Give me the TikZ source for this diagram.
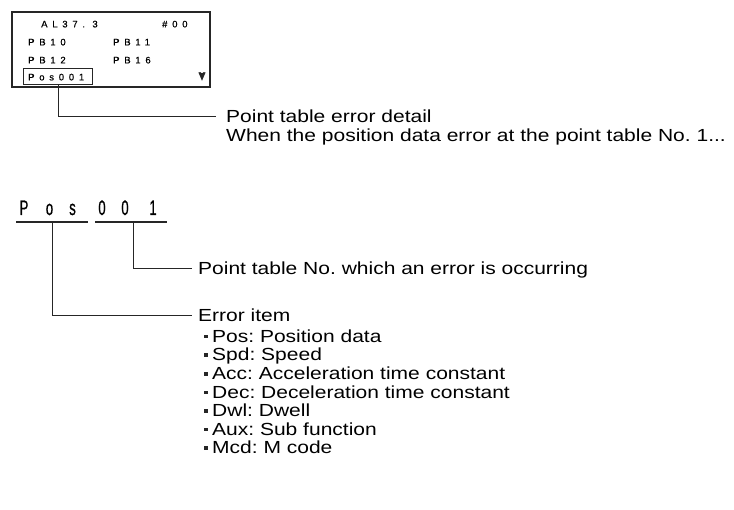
\documentclass[tikz,border=0pt]{standalone}
\usepackage{fontspec}
\setmainfont[FakeStretch=1.2]{Liberation Sans}
\newfontfamily\lcdfont[LetterSpace=50,FakeBold=0.5]{Liberation Sans}
\newfontfamily\bigfont[FakeStretch=0.62,FakeBold=0.7]{Liberation Sans}

\begin{document}
\frenchspacing
\begin{tikzpicture}[x=1pt,y=-1pt,
  lbl/.style={anchor=base west, inner sep=0pt, font=\fontsize{17.5}{20}\selectfont},
  lcd/.style={anchor=base west, inner sep=0pt, font=\lcdfont\fontsize{9.5}{10}\selectfont},
  bigch/.style={anchor=base, inner sep=0pt, font=\bigfont\fontsize{21}{24}\selectfont},
  lead/.style={line width=0.9pt, draw=black!85},
  uline/.style={line width=1.1pt, draw=black!85},
  bullet/.style={fill=black!85}]
\useasboundingbox (0,0) rectangle (734,510);

% display panel
\draw[line width=1.2pt, draw=black!85] (12,12) rectangle (210,87);
\node[lcd] (al)   at (41,27.4)  {AL37. 3};
\node[lcd] (stn)  at (162,27.4) {\#00};
\node[lcd] (pb10) at (28,45.4)  {PB10};
\node[lcd] (pb11) at (113,45.4) {PB11};
\node[lcd] (pb12) at (28,63.4)  {PB12};
\node[lcd] (pb16) at (113,63.4) {PB16};
\node[lcd] (pos)  at (28,80.4)  {Pos001};
\node[draw=black!85, line width=0.8pt, inner sep=0pt, minimum width=69pt, minimum height=16pt]
  (posbox) at (57.5,76) {};
\fill[black!85] (198.4,72.4) .. controls (199.4,71.6) and (201.4,72.2) .. (202,73.4)
  .. controls (202.6,72.2) and (204.6,71.6) .. (205.6,72.4) -- (202,80.8) -- cycle;

% leader to the detail note
\coordinate (d1) at (216,116);
\draw[lead] (posbox.south -| 58,0) |- (d1);
\node[lbl] (detail) at (226,122.3) {Point table error detail};
\node[lbl] (when)   at (226,141.3) {When the position data error at the point table No.~1...};

% enlarged field
\node[bigch] (c1) at (24,215)  {P};
\node[bigch] (c2) at (49.5,215) {o};
\node[bigch] (c3) at (72.5,215) {s};
\node[bigch] (c4) at (102,215) {0};
\node[bigch] (c5) at (125,215) {0};
\node[bigch] (c6) at (153,215) {1};
\coordinate (u1a) at (16,222);
\coordinate (u1b) at (88,222);
\coordinate (u2a) at (95,222);
\coordinate (u2b) at (167,222);
\draw[uline] (u1a) -- (u1b);
\draw[uline] (u2a) -- (u2b);

% leaders from the two fields
\coordinate (t2) at (133,222);
\coordinate (t1) at (52,222);
\coordinate (e2) at (192,268);
\coordinate (e1) at (192,315);
\draw[lead] (t2) |- (e2);
\draw[lead] (t1) |- (e1);
\node[lbl] (pno) at (198,274.3) {Point table No. which an error is occurring};
\node[lbl] (err) at (198,321.3) {Error item};

% list of error items
\foreach \txt [count=\i] in {Pos: Position data, Spd: Speed, Acc: Acceleration time constant,
    Dec: Deceleration time constant, Dwl: Dwell, Aux: Sub function, Mcd: M code} {
  \pgfmathsetmacro{\yy}{336+18.6*(\i-1)}
  \fill[bullet] (204.4,\yy-1.2) rectangle (207.6,\yy+2.4);
  \node[lbl] (it\i) at (212,\yy+6.3) {\txt};
}
\end{tikzpicture}
\end{document}
